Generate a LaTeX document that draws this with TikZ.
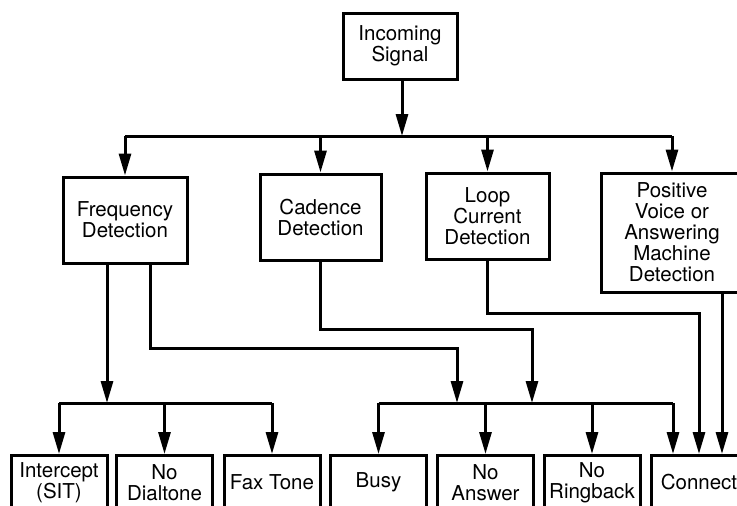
\documentclass[tikz,border=0pt]{standalone}
\usepackage{fontspec}
\setmainfont{TeX Gyre Heros}
\usetikzlibrary{arrows.meta,calc}
\begin{document}
\begin{tikzpicture}[x=1pt,y=-1pt,
  box/.style={draw, line width=3pt, align=center, inner sep=0pt, font=\fontsize{20.5}{21}\selectfont},
  botbox/.style={box, anchor=north, minimum width=96pt, minimum height=54pt},
  conn/.style={line width=3pt, -{Triangle[length=22pt 0 0,width=12pt 0 0]}},
  wire/.style={line width=3pt}]
\useasboundingbox (0,0) rectangle (737,506);
\fill[white] (0,0) rectangle (737,506);
\clip (0,0) rectangle (737,506);
% top
\node[box, minimum width=114pt, minimum height=66pt] (inc) at (400,46) {Incoming\\Signal};
% second row
\node[box, minimum width=124pt, minimum height=86pt] (freq) at (125,220) {Frequency\\Detection};
\node[box, minimum width=121pt, minimum height=86pt] (cad) at (320.5,217) {Cadence\\Detection};
\node[box, minimum width=123pt, minimum height=86pt] (loop) at (487.5,216) {Loop\\Current\\Detection};
\node[box, minimum width=142pt, minimum height=119pt] (pos) at (672,232.5) {Positive\\Voice or\\Answering\\Machine\\Detection};
% bottom row
\node[botbox] (icpt) at (59,454) {Intercept\\(SIT)};
\node[botbox] (nodial) at (164.5,454) {No\\Dialtone};
\node[botbox] (fax) at (272,454) {Fax Tone};
\node[botbox] (busy) at (378.5,454) {Busy};
\node[botbox] (noans) at (485.5,454) {No\\Answer};
\node[botbox] (noring) at (592,454) {No\\Ringback};
\node[botbox] (connect) at (699,454) {Connect};
% coordinates
\coordinate (bus1) at (402,136);
\coordinate (b2) at (107,403);
\coordinate (c1) at (673,403);
\coordinate (f2) at (150,348);
\coordinate (f2e) at (457,403);
\coordinate (cd) at (532,329);
\coordinate (lp) at (699,313);
\coordinate (pv) at (722,0);
% incoming to bus
\draw[conn] (inc.south -| bus1) -- (bus1);
\draw[wire] (freq.north |- bus1) -- (pos.north |- bus1);
\draw[conn] (freq.north |- bus1) -- (freq.north);
\draw[conn] (cad.north |- bus1) -- (cad.north);
\draw[conn] (loop.north |- bus1) -- (loop.north);
\draw[conn] (pos.north |- bus1) -- (pos.north);
% frequency to left bus
\draw[conn] (freq.south -| b2) -- (b2);
\draw[wire] (icpt.north |- b2) -- (fax.north |- b2);
\draw[conn] (icpt.north |- b2) -- (icpt.north);
\draw[conn] (nodial.north |- b2) -- (nodial.north);
\draw[conn] (fax.north |- b2) -- (fax.north);
% frequency to right bus
\draw[conn] (freq.south -| f2) -- (f2) -- (f2 -| f2e) -- (f2e);
% cadence to right bus
\draw[conn] (cad.south) |- (cd) -- (cd |- b2);
% right bus
\draw[wire] (busy.north |- b2) -- (c1);
\draw[conn] (busy.north |- b2) -- (busy.north);
\draw[conn] (noans.north |- b2) -- (noans.north);
\draw[conn] (noring.north |- b2) -- (noring.north);
\draw[conn] (c1) -- (c1 |- connect.north);
% loop current to connect
\draw[conn] (loop.south) |- (lp) -- (lp |- connect.north);
% positive voice to connect
\draw[conn] (pos.south -| pv) -- (pv |- connect.north);
\end{tikzpicture}
\end{document}
